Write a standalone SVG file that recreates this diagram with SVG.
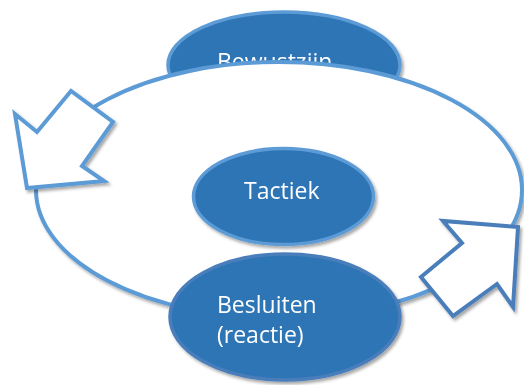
<svg xmlns="http://www.w3.org/2000/svg" width="524" height="385" viewBox="0 0 524 385">
<defs>
<filter id="sh" x="-10%" y="-10%" width="130%" height="130%">
<feDropShadow dx="2" dy="2.5" stdDeviation="1.8" flood-color="#000" flood-opacity="0.35"/>
</filter>
</defs>
<style>
.node{fill:#2E75B6;stroke:#5B9BD5;stroke-width:3.5}
.dark{stroke:#4A7EBB}
.lbl{fill:#FFFFFF;font-family:"Open Sans","Liberation Sans",sans-serif;font-size:23px}
.cycle{fill:#FFFFFF;stroke:#5B9BD5;stroke-width:4}
.arrow{fill:#FFFFFF;stroke-width:4;stroke-linejoin:miter}
</style>
<rect width="524" height="385" fill="#FFFFFF"/>
<g id="bewustzijn" filter="url(#sh)">
<ellipse class="node" cx="284" cy="65" rx="116" ry="53"/>
<text class="lbl" x="217" y="70">Bewustzijn</text>
</g>
<g id="connectors">
<ellipse class="cycle" cx="279" cy="190" rx="243" ry="128" filter="url(#sh)"/>
</g>
<g id="tactiek" filter="url(#sh)">
<ellipse class="node" cx="283.5" cy="196.5" rx="90" ry="48"/>
<text class="lbl" x="244" y="199">Tactiek</text>
</g>
<g id="besluiten" filter="url(#sh)">
<ellipse class="node dark" cx="285" cy="317" rx="115" ry="63"/>
<text class="lbl" x="217" y="313">Besluiten</text>
<text class="lbl" x="217" y="343">(reactie)</text>
</g>
<g id="arrow-left" filter="url(#sh)">
<polygon class="arrow" stroke="#5B9BD5" points="15,114 37,132 71,91 113,122 82,166 104,181 27,188"/>
</g>
<g id="arrow-right" filter="url(#sh)">
<polygon class="arrow" stroke="#4A7EBB" points="443,221 462,243 421,277 453,316 497,284 513,307 518,227"/>
</g>
</svg>
